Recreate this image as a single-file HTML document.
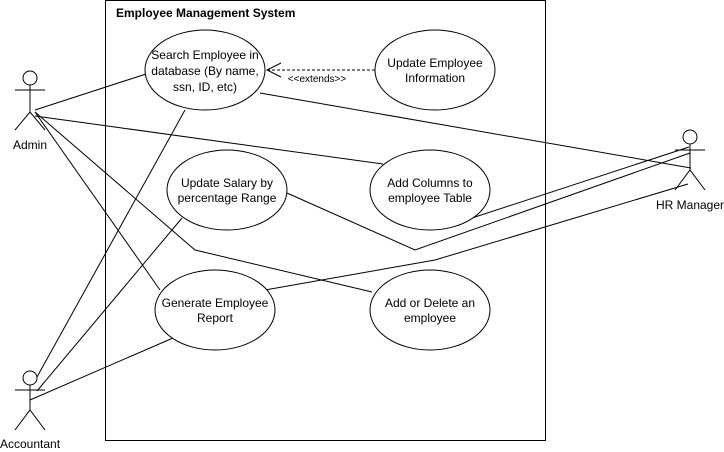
<!DOCTYPE html>
<html><head><meta charset="utf-8"><style>
html,body{margin:0;padding:0;background:#fff;}
svg{display:block;font-family:"Liberation Sans",Arial,sans-serif;}
</style></head><body>
<svg width="724" height="452" viewBox="0 0 724 452" xmlns="http://www.w3.org/2000/svg">
<rect x="105.5" y="0.5" width="440" height="440" fill="#fff" stroke="#000" stroke-width="1"/>
<text x="116" y="17" font-size="12" font-weight="bold">Employee Management System</text>
<g fill="none" stroke="#000" stroke-width="1">
<line x1="35" y1="110" x2="146" y2="74"/>
<line x1="35" y1="116" x2="383" y2="164"/>
<line x1="35" y1="112" x2="160" y2="290"/>
<polyline points="35,112 195,250 372,292"/>
<line x1="37" y1="377" x2="185" y2="110"/>
<line x1="37" y1="391" x2="182" y2="218"/>
<line x1="30" y1="400" x2="173" y2="338"/>
<line x1="260" y1="93" x2="691" y2="168"/>
<line x1="472" y1="218" x2="689" y2="147"/>
<polyline points="287,193 415,250 690,153"/>
<polyline points="265,290 435,260 688,184"/>
<line x1="375" y1="70" x2="268" y2="70" stroke-dasharray="3,2"/>
<polyline points="281,63 267,70 281,77"/>
<ellipse cx="205" cy="70" rx="60" ry="40" fill="#fff"/>
<ellipse cx="435" cy="70" rx="60" ry="40" fill="#fff"/>
<ellipse cx="227" cy="190" rx="60" ry="40" fill="#fff"/>
<ellipse cx="430" cy="190" rx="60" ry="40" fill="#fff"/>
<ellipse cx="215" cy="310" rx="60" ry="40" fill="#fff"/>
<ellipse cx="430" cy="310" rx="60" ry="40" fill="#fff"/>
<circle cx="30" cy="78" r="7"/><line x1="30" y1="85" x2="30" y2="112"/><line x1="15" y1="90" x2="45" y2="90"/><polyline points="15,130 30,112 45,130"/>
<circle cx="30" cy="378" r="7"/><line x1="30" y1="385" x2="30" y2="410"/><line x1="15" y1="390" x2="45" y2="390"/><polyline points="15,430 30,410 45,430"/>
<circle cx="690" cy="137" r="7"/><line x1="690" y1="144" x2="690" y2="170"/><line x1="675" y1="150" x2="705" y2="150"/><polyline points="675,190 690,170 705,190"/>
</g>
<g font-size="12" text-anchor="middle" fill="#000">
<text x="205" y="59">Search Employee in</text>
<text x="205" y="75">database (By name,</text>
<text x="205" y="91">ssn, ID, etc)</text>
<text x="435" y="67">Update Employee</text>
<text x="435" y="82">Information</text>
<text x="227" y="187">Update Salary by</text>
<text x="227" y="202">percentage Range</text>
<text x="430" y="187">Add Columns to</text>
<text x="430" y="202">employee Table</text>
<text x="215" y="307">Generate Employee</text>
<text x="215" y="322">Report</text>
<text x="430" y="307">Add or Delete an</text>
<text x="430" y="322">employee</text>
<text x="30" y="149">Admin</text>
<text x="30" y="448">Accountant</text>
<text x="690" y="209">HR Manager</text>
<text x="317" y="82" font-size="10">&lt;&lt;extends&gt;&gt;</text>
</g>
</svg>
</body></html>
